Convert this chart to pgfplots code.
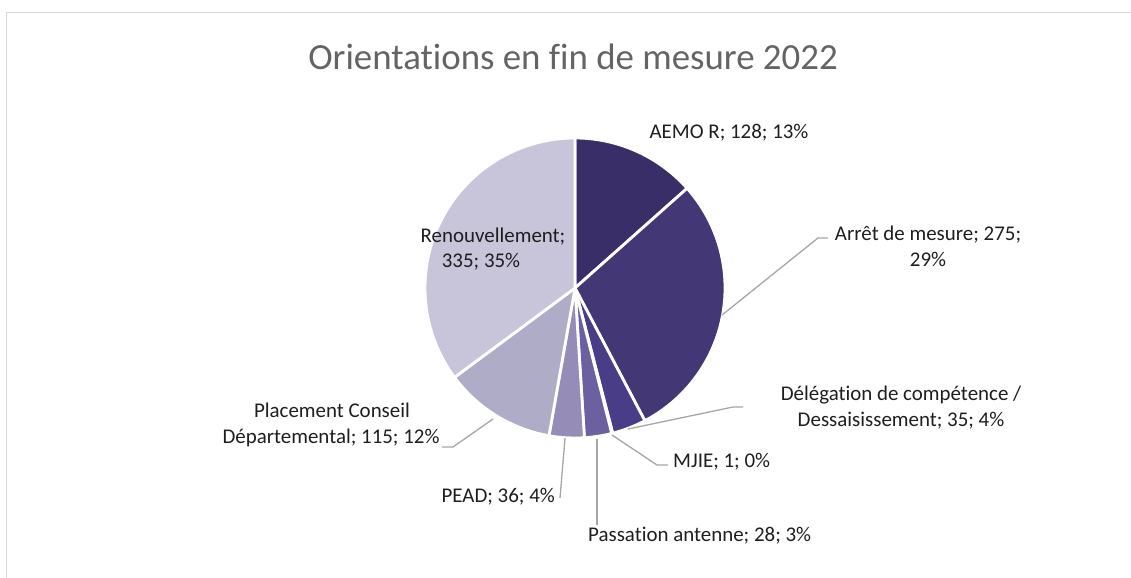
\documentclass[border=0pt]{standalone}
\usepackage{pgfplots}
\pgfplotsset{compat=1.18}
\usepackage{fontspec}
\setmainfont{Carlito}[Ligatures={NoCommon}]
\definecolor{cA}{HTML}{3A2E68}
\definecolor{cB}{HTML}{433776}
\definecolor{cC}{HTML}{4A3D87}
\definecolor{cD}{HTML}{5A4C96}
\definecolor{cE}{HTML}{6C60A0}
\definecolor{cF}{HTML}{968CB8}
\definecolor{cG}{HTML}{AFACC8}
\definecolor{cH}{HTML}{C8C5DA}
\definecolor{lab}{HTML}{1E1E1E}
\definecolor{titlec}{HTML}{646464}
\definecolor{leader}{HTML}{A6A6A6}
\definecolor{borderc}{HTML}{D9D9D9}
% pie geometry (pixels) and total of the values
\def\cx{575}\def\cy{288}\def\rr{150}\def\tot{953}
\begin{document}
\begin{tikzpicture}
\begin{axis}[at={(0,0)}, anchor=south west, width=1131bp, height=578bp,
  scale only axis, xmin=0, xmax=1131, ymin=0, ymax=578, y dir=reverse,
  hide axis, clip=false]
% slices: domain = cumulative values (AEMO R 128, Arret 275, Delegation 35, MJIE 1,
% Passation 28, PEAD 36, Placement 115, Renouvellement 335)
\addplot[fill=cA, draw=white, line width=2.8bp, domain=0:128, samples=60, variable=\t]
  ({\cx+\rr*sin(\t*360/\tot)}, {\cy-\rr*cos(\t*360/\tot)}) -- (axis cs:\cx,\cy) -- cycle;
\addplot[fill=cB, draw=white, line width=2.8bp, domain=128:403, samples=90, variable=\t]
  ({\cx+\rr*sin(\t*360/\tot)}, {\cy-\rr*cos(\t*360/\tot)}) -- (axis cs:\cx,\cy) -- cycle;
\addplot[fill=cC, draw=white, line width=2.8bp, domain=403:438, samples=20, variable=\t]
  ({\cx+\rr*sin(\t*360/\tot)}, {\cy-\rr*cos(\t*360/\tot)}) -- (axis cs:\cx,\cy) -- cycle;
\addplot[fill=cD, draw=white, line width=2.8bp, domain=438:439, samples=5, variable=\t]
  ({\cx+\rr*sin(\t*360/\tot)}, {\cy-\rr*cos(\t*360/\tot)}) -- (axis cs:\cx,\cy) -- cycle;
\addplot[fill=cE, draw=white, line width=2.8bp, domain=439:467, samples=20, variable=\t]
  ({\cx+\rr*sin(\t*360/\tot)}, {\cy-\rr*cos(\t*360/\tot)}) -- (axis cs:\cx,\cy) -- cycle;
\addplot[fill=cF, draw=white, line width=2.8bp, domain=467:503, samples=20, variable=\t]
  ({\cx+\rr*sin(\t*360/\tot)}, {\cy-\rr*cos(\t*360/\tot)}) -- (axis cs:\cx,\cy) -- cycle;
\addplot[fill=cG, draw=white, line width=2.8bp, domain=503:618, samples=50, variable=\t]
  ({\cx+\rr*sin(\t*360/\tot)}, {\cy-\rr*cos(\t*360/\tot)}) -- (axis cs:\cx,\cy) -- cycle;
\addplot[fill=cH, draw=white, line width=2.8bp, domain=618:953, samples=110, variable=\t]
  ({\cx+\rr*sin(\t*360/\tot)}, {\cy-\rr*cos(\t*360/\tot)}) -- (axis cs:\cx,\cy) -- cycle;

% border
\draw[color=borderc, line width=1.3bp] (axis cs:6.7,578) -- (axis cs:6.7,12.7) -- (axis cs:1131,12.7);
% title
\node[anchor=base, font=\fontsize{37}{44}\selectfont, text=titlec] at (axis cs:573,70) {Orientations en fin de mesure 2022};
% leader lines
\begin{scope}[color=leader, line width=1.3bp]
\draw (axis cs:722,315) -- (axis cs:818,238) -- (axis cs:828,238);
\draw (axis cs:628,429) -- (axis cs:733,407) -- (axis cs:743,407);
\draw (axis cs:612,435) -- (axis cs:657,465) -- (axis cs:668,465);
\draw (axis cs:597,439) -- (axis cs:597,525);
\draw (axis cs:565,438) -- (axis cs:560,498);
\draw (axis cs:493,419) -- (axis cs:453,447) -- (axis cs:442,447);
\end{scope}
% labels
\begin{scope}[every node/.style={font=\fontsize{21}{25}\selectfont, text=lab, inner sep=0pt}]
\node[anchor=base] at (axis cs:729,138) {AEMO R; 128; 13\%};
\node[anchor=base] at (axis cs:928,240) {Arrêt de mesure; 275;};
\node[anchor=base] at (axis cs:928,266) {29\%};
\node[anchor=base] at (axis cs:901,400) {Délégation de compétence /};
\node[anchor=base] at (axis cs:901,426) {Dessaisissement; 35; 4\%};
\node[anchor=base west] at (axis cs:673,467) {MJIE; 1; 0\%};
\node[anchor=base west] at (axis cs:588,541) {Passation antenne; 28; 3\%};
\node[anchor=base east] at (axis cs:555,502) {PEAD; 36; 4\%};
\node[anchor=base] at (axis cs:332,417) {Placement Conseil};
\node[anchor=base] at (axis cs:331,443) {Départemental; 115; 12\%};
\node[anchor=base] at (axis cs:493,242) {Renouvellement;};
\node[anchor=base] at (axis cs:481,267) {335; 35\%};
\end{scope}
\end{axis}
\pgfresetboundingbox
\path[use as bounding box] (0,0) rectangle (1131bp,578bp);
\end{tikzpicture}
\end{document}
